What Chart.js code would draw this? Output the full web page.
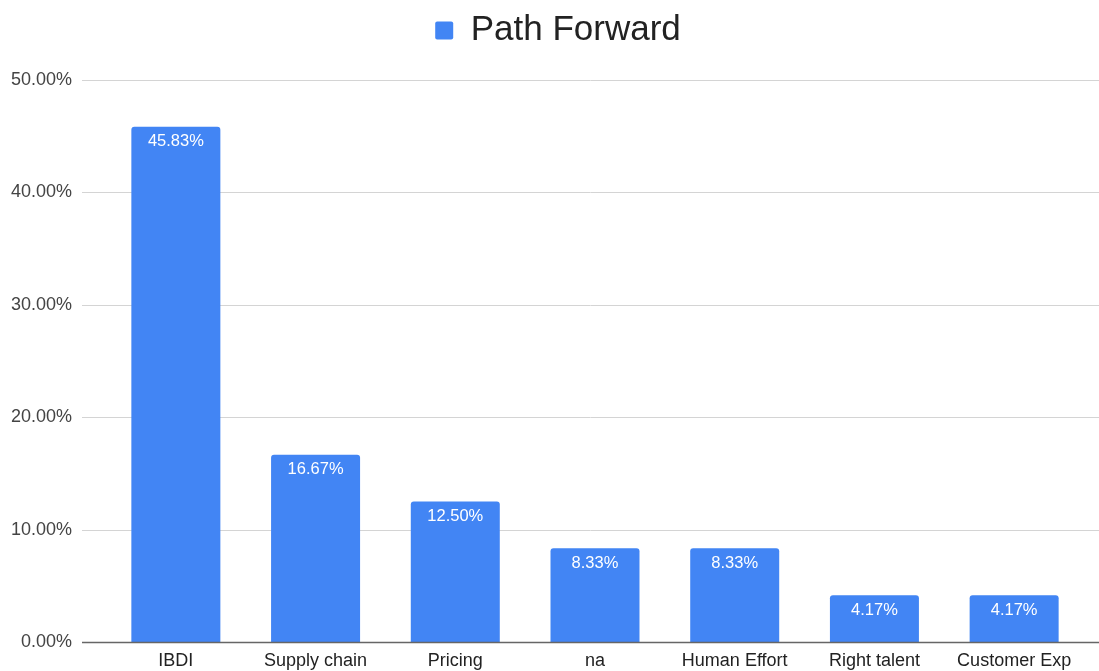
<!DOCTYPE html>
<html>
<head>
<meta charset="utf-8">
<script src="https://cdn.jsdelivr.net/npm/chart.js@4/dist/chart.umd.min.js"></script>
<style>
html,body{margin:0;padding:0;background:#fff;}
#wrap{width:1099px;height:671px;position:relative;}
</style>
</head>
<body>
<div id="wrap"><canvas id="c" width="1099" height="671"></canvas></div>
<script>
const categories = ["IBDI", "Supply chain", "Pricing", "na", "Human Effort", "Right talent", "Customer Exp"];
const seriesName = "Path Forward";
const values = [45.83, 16.67, 12.50, 8.33, 8.33, 4.17, 4.17];
const yTicks = [0, 10, 20, 30, 40, 50];

const FONT = "'Liberation Sans', Arial, sans-serif";
const BLUE = "#4285F4";

const legendHeight = {
  id: 'legendHeight',
  beforeInit(chart) {
    const orig = chart.legend.fit;
    chart.legend.fit = function () {
      orig.call(this);
      this.height = 80;
    };
  }
};

const gridPlugin = {
  id: 'gridPlugin',
  beforeDatasetsDraw(chart) {
    const ctx = chart.ctx;
    const y = chart.scales.y;
    const left = chart.chartArea.left - 24;
    const right = chart.width;
    ctx.save();
    yTicks.forEach(v => {
      if (v === 0) return;
      const py = Math.round(y.getPixelForValue(v)) + 0.5;
      ctx.strokeStyle = '#d4d4d4';
      ctx.lineWidth = 1;
      ctx.beginPath();
      ctx.moveTo(left, py);
      ctx.lineTo(right, py);
      ctx.stroke();
    });
    ctx.restore();
  },
  afterDatasetsDraw(chart) {
    const ctx = chart.ctx;
    const y = chart.scales.y;
    const left = chart.chartArea.left - 24;
    const right = chart.width;
    ctx.save();
    const py = Math.round(y.getPixelForValue(0)) + 0.5;
    ctx.strokeStyle = '#666';
    ctx.lineWidth = 1.5;
    ctx.beginPath();
    ctx.moveTo(left, py);
    ctx.lineTo(right, py);
    ctx.stroke();
    const meta = chart.getDatasetMeta(0);
    ctx.fillStyle = '#ffffff';
    ctx.font = "16.5px " + FONT;
    ctx.textAlign = 'center';
    ctx.textBaseline = 'middle';
    meta.data.forEach((el, i) => {
      const v = chart.data.datasets[0].data[i];
      ctx.fillText(v.toFixed(2) + '%', el.x, el.y + 15);
    });
    ctx.restore();
  }
};

new Chart(document.getElementById('c'), {
  type: 'bar',
  data: {
    labels: categories,
    datasets: [{
      label: seriesName,
      data: values,
      backgroundColor: BLUE,
      borderWidth: 0,
      borderRadius: {topLeft: 3, topRight: 3, bottomLeft: 0, bottomRight: 0},
      borderSkipped: 'start',
      barPercentage: 0.637,
      categoryPercentage: 1.0
    }]
  },
  options: {
    responsive: false,
    animation: false,
    layout: { padding: { left: 32, right: 15, top: 0, bottom: 0 } },
    plugins: {
      legend: {
        display: true,
        position: 'top',
        labels: {
          font: { family: FONT, size: 35 },
          color: '#222',
          boxWidth: 18,
          boxHeight: 18,
          padding: 13,
          useBorderRadius: true,
          borderRadius: 2
        }
      },
      tooltip: { enabled: false },
      title: { display: false }
    },
    scales: {
      x: {
        grid: { display: false, drawTicks: false },
        border: { display: false },
        ticks: {
          font: { family: FONT, size: 18 },
          color: '#222',
          padding: 8,
          maxRotation: 0,
          autoSkip: false
        },
        afterFit(scale) { scale.height = 29; }
      },
      y: {
        min: 0,
        max: 50,
        grid: { display: false, drawTicks: true, tickLength: 34 },
        border: { display: false },
        ticks: {
          stepSize: 10,
          font: { family: FONT, size: 18 },
          color: '#444',
          padding: 0,
          callback: v => v.toFixed(2) + '%'
        },
        afterFit(scale) {
          scale.width = 74;
          scale._computeLabelArea = () => undefined;
        }
      }
    }
  },
  plugins: [legendHeight, gridPlugin]
});
</script>
</body>
</html>
